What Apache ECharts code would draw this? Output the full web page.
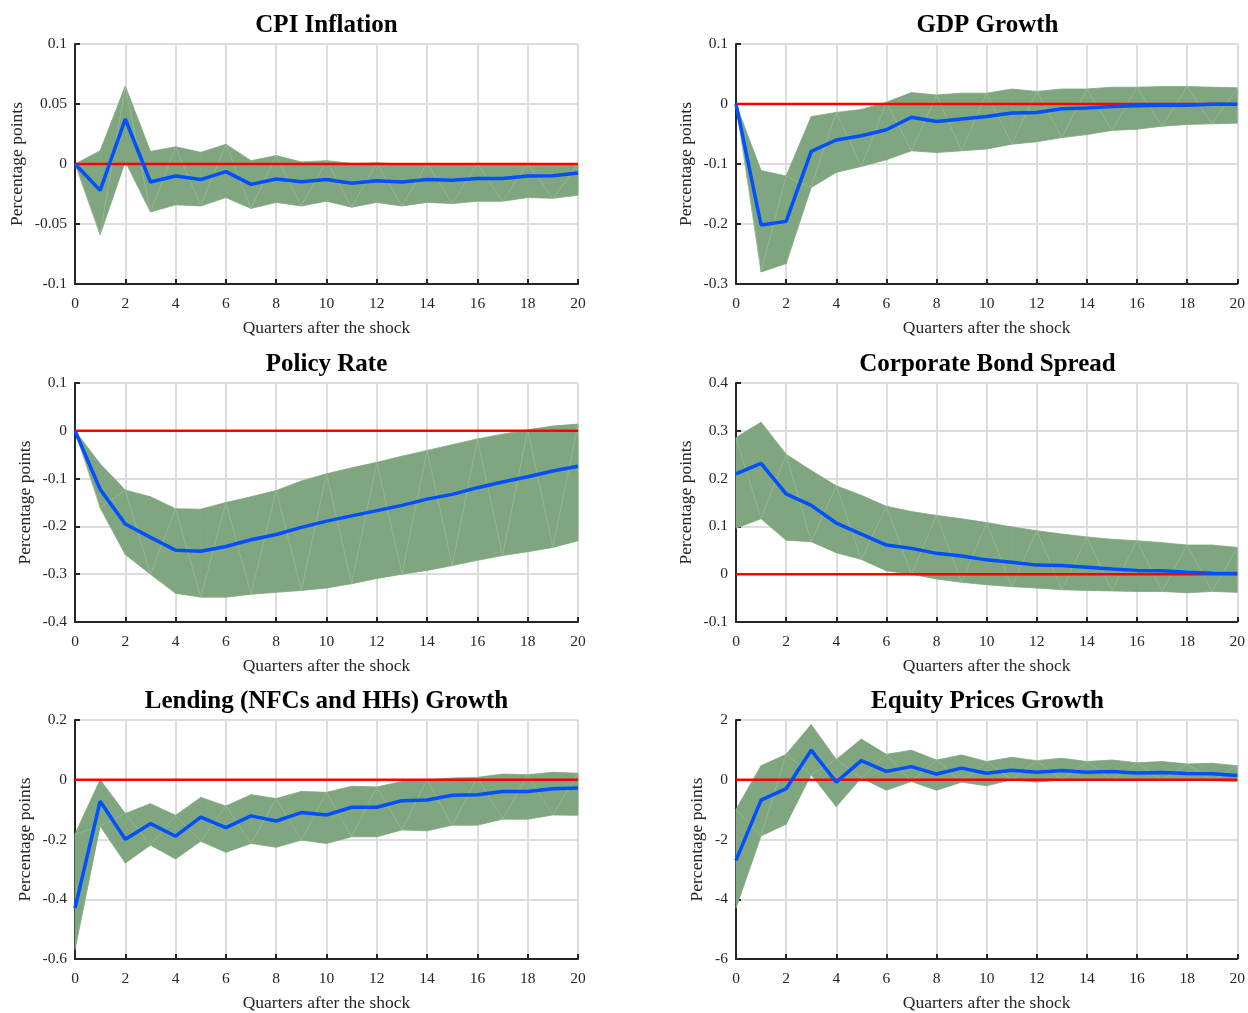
<!DOCTYPE html>
<html><head><meta charset="utf-8">
<script src="https://cdn.jsdelivr.net/npm/echarts@6/dist/echarts.min.js"></script>
<style>html,body{margin:0;padding:0;background:#fff}#c{width:1248px;height:1013px}</style>
</head><body><div id="c"></div>
<script>
const quarters = [0,1,2,3,4,5,6,7,8,9,10,11,12,13,14,15,16,17,18,19,20];
const titles = ['CPI Inflation','GDP Growth','Policy Rate','Corporate Bond Spread','Lending (NFCs and HHs) Growth','Equity Prices Growth'];

const cpiMean  = [0,-0.022,0.0375,-0.015,-0.010,-0.013,-0.0064,-0.017,-0.0125,-0.0147,-0.013,-0.016,-0.014,-0.015,-0.013,-0.0136,-0.012,-0.012,-0.010,-0.0097,-0.0075];
const cpiUpper = [0,0.011,0.065,0.0105,0.0144,0.0097,0.0164,0.0028,0.007,0.0017,0.0028,0.0005,0.001,0.0,0.0005,0.0003,0.0005,0.0005,0.0005,0.0003,0.0];
const cpiLower = [0,-0.059,0.002,-0.040,-0.034,-0.035,-0.028,-0.037,-0.032,-0.035,-0.031,-0.036,-0.032,-0.035,-0.032,-0.033,-0.031,-0.031,-0.028,-0.0286,-0.026];

const gdpMean  = [0,-0.2017,-0.1956,-0.079,-0.060,-0.053,-0.043,-0.022,-0.029,-0.025,-0.021,-0.015,-0.014,-0.008,-0.0067,-0.004,-0.003,-0.002,-0.002,-0.0006,-0.0006];
const gdpUpper = [0,-0.111,-0.12,-0.021,-0.014,-0.009,0.003,0.019,0.015,0.018,0.018,0.025,0.021,0.025,0.025,0.028,0.028,0.029,0.029,0.028,0.027];
const gdpLower = [0,-0.28,-0.266,-0.139,-0.114,-0.104,-0.093,-0.078,-0.081,-0.078,-0.075,-0.067,-0.063,-0.056,-0.051,-0.044,-0.042,-0.037,-0.034,-0.033,-0.032];

const rateMean  = [0,-0.1225,-0.195,-0.223,-0.25,-0.252,-0.242,-0.228,-0.217,-0.202,-0.189,-0.178,-0.167,-0.156,-0.143,-0.133,-0.119,-0.107,-0.096,-0.084,-0.074];
const rateUpper = [0,-0.069,-0.124,-0.138,-0.163,-0.164,-0.150,-0.138,-0.125,-0.105,-0.090,-0.0775,-0.066,-0.053,-0.041,-0.029,-0.017,-0.007,0.002,0.010,0.014];
const rateLower = [0,-0.161,-0.259,-0.30,-0.340,-0.348,-0.348,-0.342,-0.338,-0.334,-0.329,-0.320,-0.309,-0.300,-0.292,-0.282,-0.271,-0.261,-0.253,-0.244,-0.230];

const spreadMean  = [0.21,0.232,0.168,0.144,0.107,0.084,0.061,0.054,0.0436,0.038,0.030,0.025,0.019,0.018,0.0145,0.011,0.008,0.007,0.004,0.002,0.0014];
const spreadUpper = [0.286,0.318,0.251,0.217,0.185,0.165,0.142,0.131,0.123,0.116,0.108,0.099,0.091,0.084,0.078,0.073,0.070,0.066,0.061,0.061,0.056];
const spreadLower = [0.096,0.116,0.071,0.068,0.045,0.031,0.007,0,-0.010,-0.017,-0.022,-0.026,-0.029,-0.0325,-0.034,-0.035,-0.036,-0.036,-0.039,-0.036,-0.038];

const lendMean  = [-0.43,-0.072,-0.199,-0.147,-0.189,-0.125,-0.160,-0.121,-0.138,-0.110,-0.118,-0.092,-0.092,-0.070,-0.068,-0.052,-0.050,-0.039,-0.039,-0.030,-0.028];
const lendUpper = [-0.182,0,-0.113,-0.080,-0.119,-0.059,-0.088,-0.050,-0.063,-0.039,-0.042,-0.022,-0.024,-0.006,0,0.006,0.008,0.019,0.017,0.025,0.022];
const lendLower = [-0.568,-0.155,-0.279,-0.219,-0.265,-0.206,-0.243,-0.213,-0.226,-0.202,-0.213,-0.191,-0.191,-0.168,-0.171,-0.152,-0.152,-0.132,-0.132,-0.118,-0.119];

const eqMean  = [-2.70,-0.68,-0.30,0.99,-0.08,0.64,0.28,0.44,0.19,0.39,0.22,0.32,0.25,0.31,0.25,0.28,0.23,0.24,0.21,0.20,0.14];
const eqUpper = [-0.99,0.47,0.85,1.85,0.68,1.36,0.85,0.99,0.66,0.83,0.61,0.75,0.64,0.72,0.61,0.66,0.57,0.61,0.53,0.55,0.47];
const eqLower = [-4.30,-1.88,-1.49,0.17,-0.90,0.06,-0.35,-0.06,-0.35,-0.08,-0.20,0,-0.08,0,-0.02,-0.02,0,-0.02,-0.02,-0.03,-0.06];

const yMins = [-0.1,-0.3,-0.4,-0.1,-0.6,-6];
const yMaxs = [0.1,0.1,0.1,0.4,0.2,2];
const yIntervals = [0.05,0.1,0.1,0.1,0.2,2];
const xTickInterval = 2;

const means = [cpiMean,gdpMean,rateMean,spreadMean,lendMean,eqMean];
const uppers = [cpiUpper,gdpUpper,rateUpper,spreadUpper,lendUpper,eqUpper];
const lowers = [cpiLower,gdpLower,rateLower,spreadLower,lendLower,eqLower];

const FONT = '"Liberation Serif", "DejaVu Serif", serif';
const lefts = [75,736];
const tops = [44,383,720];
const heights = [240,239,242];
const W = 503;
const yNameGaps = [49,41,41,41,41,30];

const grid = [], xAxis = [], yAxis = [], graphic = [], series = [];
for (let p = 0; p < 6; p++) {
  const col = p % 2, row = Math.floor(p / 2);
  grid.push({left: lefts[col], top: tops[row], width: W, height: heights[row]});
  graphic.push({
    type: 'text', x: lefts[col] + W/2, y: tops[row] - 18, silent: true,
    style: {text: titles[p], textAlign: 'center', textVerticalAlign: 'middle',
      font: 'bold 25px ' + FONT, fill: '#000'}
  });
  xAxis.push({
    type: 'value', gridIndex: p, min: 0, max: 20, interval: xTickInterval,
    name: 'Quarters after the shock', nameLocation: 'middle', nameGap: 35,
    nameTextStyle: {fontFamily: FONT, fontSize: 17.5, color: '#262626'},
    axisLine: {show: true, onZero: false, lineStyle: {color: '#262626', width: 2}},
    axisTick: {show: true, inside: true, length: 5, lineStyle: {color: '#262626', width: 2}},
    axisLabel: {fontFamily: FONT, fontSize: 15.5, color: '#262626', margin: 12},
    splitLine: {show: true, lineStyle: {color: '#dddddd', width: 2}}
  });
  yAxis.push({
    type: 'value', gridIndex: p, min: yMins[p], max: yMaxs[p], interval: yIntervals[p],
    name: 'Percentage points', nameLocation: 'middle', nameGap: yNameGaps[p], nameRotate: 90,
    nameTextStyle: {fontFamily: FONT, fontSize: 17.5, color: '#262626'},
    axisLine: {show: true, onZero: false, lineStyle: {color: '#262626', width: 2}},
    axisTick: {show: true, inside: true, length: 5, lineStyle: {color: '#262626', width: 2}},
    axisLabel: {fontFamily: FONT, fontSize: 15.5, color: '#262626', margin: 8,
      formatter: v => String(parseFloat(v.toFixed(4)))},
    splitLine: {show: true, lineStyle: {color: '#dddddd', width: 2}}
  });
  const up = uppers[p], lo = lowers[p];
  series.push({
    type: 'custom', xAxisIndex: p, yAxisIndex: p, z: 2, silent: true,
    data: quarters.slice(0, quarters.length - 1).map(q => [q]),
    renderItem: function (params, api) {
      const i = params.dataIndex;
      const x0 = quarters[i], x1 = quarters[i + 1];
      const a = api.coord([x0, up[i]]), b = api.coord([x1, up[i + 1]]);
      const c = api.coord([x1, lo[i + 1]]), d = api.coord([x0, lo[i]]);
      const diag = (i % 2 === 0) ? [a, c] : [d, b];
      return {type: 'group', children: [
        {type: 'polygon', shape: {points: [a, b, c, d]},
         style: {fill: '#7fa67f', stroke: '#7fa67f', lineWidth: 0.8}},
        {type: 'line', shape: {x1: diag[0][0], y1: diag[0][1], x2: diag[1][0], y2: diag[1][1]},
         style: {stroke: 'rgba(255,255,255,0.22)', lineWidth: 0.8}}
      ]};
    }
  });
  series.push({
    type: 'line', xAxisIndex: p, yAxisIndex: p, z: 3, silent: true, symbol: 'none',
    data: quarters.map(q => [q, 0]),
    lineStyle: {color: '#ff0000', width: 2.5}
  });
  series.push({
    type: 'line', xAxisIndex: p, yAxisIndex: p, z: 4, silent: true, symbol: 'none',
    data: quarters.map((q, i) => [q, means[p][i]]),
    lineStyle: {color: '#0050ff', width: 3.5}
  });
}

const chart = echarts.init(document.getElementById('c'), null, {renderer: 'canvas'});
chart.setOption({animation: false, backgroundColor: '#fff', graphic, grid, xAxis, yAxis, series});
</script></body></html>
